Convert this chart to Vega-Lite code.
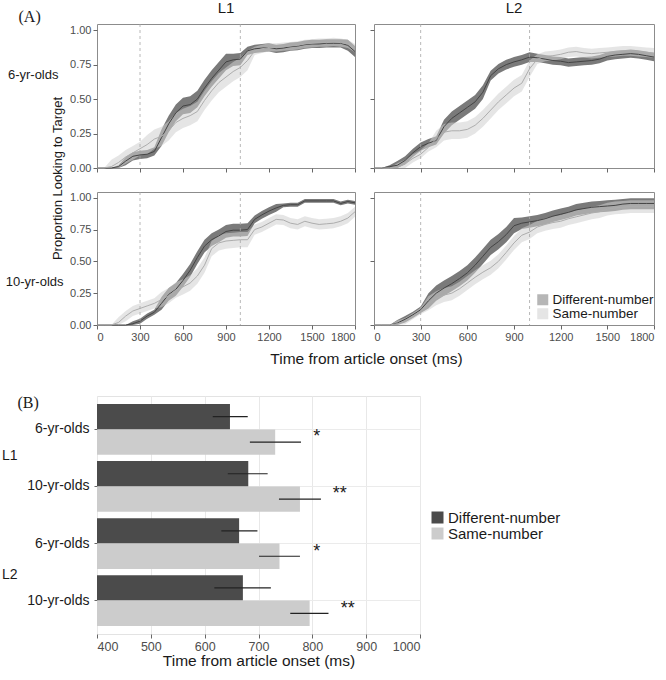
{
"$schema": "https://vega.github.io/schema/vega-lite/v6.json",
"padding": {"left": 0, "top": 0, "right": 2, "bottom": 2},
"background": "white",
"config": {
  "font": "Liberation Sans",
  "view": {"stroke": "#8c8c8c"},
  "axis": {"labelFont": "Liberation Sans", "titleFont": "Liberation Sans", "labelColor": "#4d4d4d", "tickColor": "#666666", "domain": false, "grid": false, "labelFontSize": 11, "tickSize": 4, "labelPadding": 2, "labelOverlap": false, "labelBound": false, "titleFontWeight": "normal", "titleColor": "#1a1a1a"},
  "title": {"font": "Liberation Sans", "fontWeight": "normal", "fontSize": 15, "color": "#1a1a1a"}
},
"datasets": {
"curves": [
{"lang":"L1","age":"6","c":"D","t":0,"m":0,"lo":0,"hi":0},
{"lang":"L1","age":"6","c":"D","t":50,"m":0,"lo":0,"hi":0},
{"lang":"L1","age":"6","c":"D","t":100,"m":0,"lo":0,"hi":0},
{"lang":"L1","age":"6","c":"D","t":150,"m":0.01,"lo":0,"hi":0.02},
{"lang":"L1","age":"6","c":"D","t":200,"m":0.05,"lo":0.02,"hi":0.08},
{"lang":"L1","age":"6","c":"D","t":250,"m":0.085,"lo":0.055,"hi":0.115},
{"lang":"L1","age":"6","c":"D","t":300,"m":0.095,"lo":0.065,"hi":0.125},
{"lang":"L1","age":"6","c":"D","t":350,"m":0.1,"lo":0.07,"hi":0.13},
{"lang":"L1","age":"6","c":"D","t":400,"m":0.12,"lo":0.09,"hi":0.15},
{"lang":"L1","age":"6","c":"D","t":450,"m":0.22,"lo":0.16,"hi":0.28},
{"lang":"L1","age":"6","c":"D","t":500,"m":0.32,"lo":0.26,"hi":0.38},
{"lang":"L1","age":"6","c":"D","t":550,"m":0.4,"lo":0.34,"hi":0.46},
{"lang":"L1","age":"6","c":"D","t":600,"m":0.45,"lo":0.39,"hi":0.51},
{"lang":"L1","age":"6","c":"D","t":650,"m":0.46,"lo":0.4,"hi":0.52},
{"lang":"L1","age":"6","c":"D","t":700,"m":0.5,"lo":0.44,"hi":0.56},
{"lang":"L1","age":"6","c":"D","t":750,"m":0.58,"lo":0.52,"hi":0.64},
{"lang":"L1","age":"6","c":"D","t":800,"m":0.65,"lo":0.59,"hi":0.71},
{"lang":"L1","age":"6","c":"D","t":850,"m":0.71,"lo":0.65,"hi":0.77},
{"lang":"L1","age":"6","c":"D","t":900,"m":0.77,"lo":0.71,"hi":0.83},
{"lang":"L1","age":"6","c":"D","t":950,"m":0.785,"lo":0.74,"hi":0.83},
{"lang":"L1","age":"6","c":"D","t":1000,"m":0.79,"lo":0.745,"hi":0.835},
{"lang":"L1","age":"6","c":"D","t":1050,"m":0.85,"lo":0.82,"hi":0.88},
{"lang":"L1","age":"6","c":"D","t":1100,"m":0.865,"lo":0.835,"hi":0.895},
{"lang":"L1","age":"6","c":"D","t":1150,"m":0.87,"lo":0.84,"hi":0.9},
{"lang":"L1","age":"6","c":"D","t":1200,"m":0.875,"lo":0.845,"hi":0.905},
{"lang":"L1","age":"6","c":"D","t":1250,"m":0.865,"lo":0.835,"hi":0.895},
{"lang":"L1","age":"6","c":"D","t":1300,"m":0.87,"lo":0.84,"hi":0.9},
{"lang":"L1","age":"6","c":"D","t":1350,"m":0.88,"lo":0.85,"hi":0.91},
{"lang":"L1","age":"6","c":"D","t":1400,"m":0.885,"lo":0.855,"hi":0.915},
{"lang":"L1","age":"6","c":"D","t":1450,"m":0.895,"lo":0.865,"hi":0.925},
{"lang":"L1","age":"6","c":"D","t":1500,"m":0.9,"lo":0.87,"hi":0.93},
{"lang":"L1","age":"6","c":"D","t":1550,"m":0.9,"lo":0.87,"hi":0.93},
{"lang":"L1","age":"6","c":"D","t":1600,"m":0.905,"lo":0.875,"hi":0.935},
{"lang":"L1","age":"6","c":"D","t":1650,"m":0.905,"lo":0.875,"hi":0.935},
{"lang":"L1","age":"6","c":"D","t":1700,"m":0.905,"lo":0.875,"hi":0.935},
{"lang":"L1","age":"6","c":"D","t":1750,"m":0.89,"lo":0.85,"hi":0.93},
{"lang":"L1","age":"6","c":"D","t":1800,"m":0.845,"lo":0.805,"hi":0.885},
{"lang":"L1","age":"6","c":"S","t":0,"m":0,"lo":0,"hi":0},
{"lang":"L1","age":"6","c":"S","t":50,"m":0,"lo":0,"hi":0},
{"lang":"L1","age":"6","c":"S","t":100,"m":0.01,"lo":0,"hi":0.06},
{"lang":"L1","age":"6","c":"S","t":150,"m":0.04,"lo":0,"hi":0.09},
{"lang":"L1","age":"6","c":"S","t":200,"m":0.08,"lo":0.03,"hi":0.13},
{"lang":"L1","age":"6","c":"S","t":250,"m":0.11,"lo":0.06,"hi":0.16},
{"lang":"L1","age":"6","c":"S","t":300,"m":0.14,"lo":0.09,"hi":0.19},
{"lang":"L1","age":"6","c":"S","t":350,"m":0.17,"lo":0.1,"hi":0.24},
{"lang":"L1","age":"6","c":"S","t":400,"m":0.21,"lo":0.14,"hi":0.28},
{"lang":"L1","age":"6","c":"S","t":450,"m":0.23,"lo":0.16,"hi":0.3},
{"lang":"L1","age":"6","c":"S","t":500,"m":0.27,"lo":0.2,"hi":0.34},
{"lang":"L1","age":"6","c":"S","t":550,"m":0.33,"lo":0.26,"hi":0.4},
{"lang":"L1","age":"6","c":"S","t":600,"m":0.36,"lo":0.29,"hi":0.43},
{"lang":"L1","age":"6","c":"S","t":650,"m":0.38,"lo":0.31,"hi":0.45},
{"lang":"L1","age":"6","c":"S","t":700,"m":0.41,"lo":0.34,"hi":0.48},
{"lang":"L1","age":"6","c":"S","t":750,"m":0.49,"lo":0.42,"hi":0.56},
{"lang":"L1","age":"6","c":"S","t":800,"m":0.56,"lo":0.49,"hi":0.63},
{"lang":"L1","age":"6","c":"S","t":850,"m":0.62,"lo":0.55,"hi":0.69},
{"lang":"L1","age":"6","c":"S","t":900,"m":0.66,"lo":0.59,"hi":0.73},
{"lang":"L1","age":"6","c":"S","t":950,"m":0.7,"lo":0.63,"hi":0.77},
{"lang":"L1","age":"6","c":"S","t":1000,"m":0.73,"lo":0.66,"hi":0.8},
{"lang":"L1","age":"6","c":"S","t":1050,"m":0.78,"lo":0.71,"hi":0.85},
{"lang":"L1","age":"6","c":"S","t":1100,"m":0.85,"lo":0.82,"hi":0.88},
{"lang":"L1","age":"6","c":"S","t":1150,"m":0.865,"lo":0.835,"hi":0.895},
{"lang":"L1","age":"6","c":"S","t":1200,"m":0.875,"lo":0.845,"hi":0.905},
{"lang":"L1","age":"6","c":"S","t":1250,"m":0.875,"lo":0.845,"hi":0.905},
{"lang":"L1","age":"6","c":"S","t":1300,"m":0.88,"lo":0.85,"hi":0.91},
{"lang":"L1","age":"6","c":"S","t":1350,"m":0.885,"lo":0.855,"hi":0.915},
{"lang":"L1","age":"6","c":"S","t":1400,"m":0.89,"lo":0.86,"hi":0.92},
{"lang":"L1","age":"6","c":"S","t":1450,"m":0.9,"lo":0.87,"hi":0.93},
{"lang":"L1","age":"6","c":"S","t":1500,"m":0.905,"lo":0.875,"hi":0.935},
{"lang":"L1","age":"6","c":"S","t":1550,"m":0.91,"lo":0.88,"hi":0.94},
{"lang":"L1","age":"6","c":"S","t":1600,"m":0.91,"lo":0.88,"hi":0.94},
{"lang":"L1","age":"6","c":"S","t":1650,"m":0.915,"lo":0.885,"hi":0.945},
{"lang":"L1","age":"6","c":"S","t":1700,"m":0.91,"lo":0.88,"hi":0.94},
{"lang":"L1","age":"6","c":"S","t":1750,"m":0.9,"lo":0.87,"hi":0.93},
{"lang":"L1","age":"6","c":"S","t":1800,"m":0.87,"lo":0.84,"hi":0.9},
{"lang":"L2","age":"6","c":"D","t":0,"m":0,"lo":0,"hi":0},
{"lang":"L2","age":"6","c":"D","t":50,"m":0,"lo":0,"hi":0},
{"lang":"L2","age":"6","c":"D","t":100,"m":0.01,"lo":0,"hi":0.02},
{"lang":"L2","age":"6","c":"D","t":150,"m":0.02,"lo":0,"hi":0.05},
{"lang":"L2","age":"6","c":"D","t":200,"m":0.055,"lo":0.025,"hi":0.085},
{"lang":"L2","age":"6","c":"D","t":250,"m":0.11,"lo":0.08,"hi":0.14},
{"lang":"L2","age":"6","c":"D","t":300,"m":0.155,"lo":0.125,"hi":0.185},
{"lang":"L2","age":"6","c":"D","t":350,"m":0.18,"lo":0.15,"hi":0.21},
{"lang":"L2","age":"6","c":"D","t":400,"m":0.2,"lo":0.17,"hi":0.23},
{"lang":"L2","age":"6","c":"D","t":450,"m":0.3,"lo":0.25,"hi":0.35},
{"lang":"L2","age":"6","c":"D","t":500,"m":0.36,"lo":0.31,"hi":0.41},
{"lang":"L2","age":"6","c":"D","t":550,"m":0.4,"lo":0.35,"hi":0.45},
{"lang":"L2","age":"6","c":"D","t":600,"m":0.44,"lo":0.39,"hi":0.49},
{"lang":"L2","age":"6","c":"D","t":650,"m":0.48,"lo":0.43,"hi":0.53},
{"lang":"L2","age":"6","c":"D","t":700,"m":0.55,"lo":0.5,"hi":0.6},
{"lang":"L2","age":"6","c":"D","t":750,"m":0.67,"lo":0.635,"hi":0.705},
{"lang":"L2","age":"6","c":"D","t":800,"m":0.72,"lo":0.685,"hi":0.755},
{"lang":"L2","age":"6","c":"D","t":850,"m":0.75,"lo":0.715,"hi":0.785},
{"lang":"L2","age":"6","c":"D","t":900,"m":0.77,"lo":0.735,"hi":0.805},
{"lang":"L2","age":"6","c":"D","t":950,"m":0.785,"lo":0.75,"hi":0.82},
{"lang":"L2","age":"6","c":"D","t":1000,"m":0.805,"lo":0.77,"hi":0.84},
{"lang":"L2","age":"6","c":"D","t":1050,"m":0.8,"lo":0.77,"hi":0.83},
{"lang":"L2","age":"6","c":"D","t":1100,"m":0.79,"lo":0.76,"hi":0.82},
{"lang":"L2","age":"6","c":"D","t":1150,"m":0.78,"lo":0.75,"hi":0.81},
{"lang":"L2","age":"6","c":"D","t":1200,"m":0.775,"lo":0.745,"hi":0.805},
{"lang":"L2","age":"6","c":"D","t":1250,"m":0.765,"lo":0.735,"hi":0.795},
{"lang":"L2","age":"6","c":"D","t":1300,"m":0.77,"lo":0.74,"hi":0.8},
{"lang":"L2","age":"6","c":"D","t":1350,"m":0.775,"lo":0.745,"hi":0.805},
{"lang":"L2","age":"6","c":"D","t":1400,"m":0.78,"lo":0.75,"hi":0.81},
{"lang":"L2","age":"6","c":"D","t":1450,"m":0.79,"lo":0.76,"hi":0.82},
{"lang":"L2","age":"6","c":"D","t":1500,"m":0.81,"lo":0.78,"hi":0.84},
{"lang":"L2","age":"6","c":"D","t":1550,"m":0.82,"lo":0.79,"hi":0.85},
{"lang":"L2","age":"6","c":"D","t":1600,"m":0.825,"lo":0.795,"hi":0.855},
{"lang":"L2","age":"6","c":"D","t":1650,"m":0.83,"lo":0.8,"hi":0.86},
{"lang":"L2","age":"6","c":"D","t":1700,"m":0.825,"lo":0.795,"hi":0.855},
{"lang":"L2","age":"6","c":"D","t":1750,"m":0.815,"lo":0.785,"hi":0.845},
{"lang":"L2","age":"6","c":"D","t":1800,"m":0.805,"lo":0.775,"hi":0.835},
{"lang":"L2","age":"6","c":"S","t":0,"m":0,"lo":0,"hi":0},
{"lang":"L2","age":"6","c":"S","t":50,"m":0,"lo":0,"hi":0},
{"lang":"L2","age":"6","c":"S","t":100,"m":0,"lo":0,"hi":0},
{"lang":"L2","age":"6","c":"S","t":150,"m":0.005,"lo":0,"hi":0.035},
{"lang":"L2","age":"6","c":"S","t":200,"m":0.03,"lo":0,"hi":0.06},
{"lang":"L2","age":"6","c":"S","t":250,"m":0.07,"lo":0.04,"hi":0.1},
{"lang":"L2","age":"6","c":"S","t":300,"m":0.1,"lo":0.07,"hi":0.13},
{"lang":"L2","age":"6","c":"S","t":350,"m":0.15,"lo":0.12,"hi":0.18},
{"lang":"L2","age":"6","c":"S","t":400,"m":0.21,"lo":0.15,"hi":0.27},
{"lang":"L2","age":"6","c":"S","t":450,"m":0.26,"lo":0.2,"hi":0.32},
{"lang":"L2","age":"6","c":"S","t":500,"m":0.27,"lo":0.21,"hi":0.33},
{"lang":"L2","age":"6","c":"S","t":550,"m":0.27,"lo":0.21,"hi":0.33},
{"lang":"L2","age":"6","c":"S","t":600,"m":0.28,"lo":0.22,"hi":0.34},
{"lang":"L2","age":"6","c":"S","t":650,"m":0.31,"lo":0.25,"hi":0.37},
{"lang":"L2","age":"6","c":"S","t":700,"m":0.36,"lo":0.3,"hi":0.42},
{"lang":"L2","age":"6","c":"S","t":750,"m":0.42,"lo":0.36,"hi":0.48},
{"lang":"L2","age":"6","c":"S","t":800,"m":0.48,"lo":0.42,"hi":0.54},
{"lang":"L2","age":"6","c":"S","t":850,"m":0.53,"lo":0.47,"hi":0.59},
{"lang":"L2","age":"6","c":"S","t":900,"m":0.58,"lo":0.52,"hi":0.64},
{"lang":"L2","age":"6","c":"S","t":950,"m":0.615,"lo":0.555,"hi":0.675},
{"lang":"L2","age":"6","c":"S","t":1000,"m":0.72,"lo":0.66,"hi":0.78},
{"lang":"L2","age":"6","c":"S","t":1050,"m":0.79,"lo":0.755,"hi":0.825},
{"lang":"L2","age":"6","c":"S","t":1100,"m":0.81,"lo":0.775,"hi":0.845},
{"lang":"L2","age":"6","c":"S","t":1150,"m":0.815,"lo":0.78,"hi":0.85},
{"lang":"L2","age":"6","c":"S","t":1200,"m":0.825,"lo":0.79,"hi":0.86},
{"lang":"L2","age":"6","c":"S","t":1250,"m":0.84,"lo":0.805,"hi":0.875},
{"lang":"L2","age":"6","c":"S","t":1300,"m":0.845,"lo":0.81,"hi":0.88},
{"lang":"L2","age":"6","c":"S","t":1350,"m":0.835,"lo":0.8,"hi":0.87},
{"lang":"L2","age":"6","c":"S","t":1400,"m":0.83,"lo":0.795,"hi":0.865},
{"lang":"L2","age":"6","c":"S","t":1450,"m":0.835,"lo":0.8,"hi":0.87},
{"lang":"L2","age":"6","c":"S","t":1500,"m":0.84,"lo":0.805,"hi":0.875},
{"lang":"L2","age":"6","c":"S","t":1550,"m":0.845,"lo":0.81,"hi":0.88},
{"lang":"L2","age":"6","c":"S","t":1600,"m":0.85,"lo":0.815,"hi":0.885},
{"lang":"L2","age":"6","c":"S","t":1650,"m":0.85,"lo":0.815,"hi":0.885},
{"lang":"L2","age":"6","c":"S","t":1700,"m":0.845,"lo":0.81,"hi":0.88},
{"lang":"L2","age":"6","c":"S","t":1750,"m":0.84,"lo":0.805,"hi":0.875},
{"lang":"L2","age":"6","c":"S","t":1800,"m":0.835,"lo":0.8,"hi":0.87},
{"lang":"L1","age":"10","c":"D","t":0,"m":0,"lo":0,"hi":0},
{"lang":"L1","age":"10","c":"D","t":50,"m":0,"lo":0,"hi":0},
{"lang":"L1","age":"10","c":"D","t":100,"m":0,"lo":0,"hi":0},
{"lang":"L1","age":"10","c":"D","t":150,"m":0,"lo":0,"hi":0},
{"lang":"L1","age":"10","c":"D","t":200,"m":0,"lo":0,"hi":0},
{"lang":"L1","age":"10","c":"D","t":250,"m":0.01,"lo":0,"hi":0.03},
{"lang":"L1","age":"10","c":"D","t":300,"m":0.03,"lo":0.01,"hi":0.05},
{"lang":"L1","age":"10","c":"D","t":350,"m":0.07,"lo":0.05,"hi":0.09},
{"lang":"L1","age":"10","c":"D","t":400,"m":0.1,"lo":0.08,"hi":0.12},
{"lang":"L1","age":"10","c":"D","t":450,"m":0.17,"lo":0.12,"hi":0.22},
{"lang":"L1","age":"10","c":"D","t":500,"m":0.24,"lo":0.19,"hi":0.29},
{"lang":"L1","age":"10","c":"D","t":550,"m":0.28,"lo":0.23,"hi":0.33},
{"lang":"L1","age":"10","c":"D","t":600,"m":0.35,"lo":0.3,"hi":0.4},
{"lang":"L1","age":"10","c":"D","t":650,"m":0.43,"lo":0.38,"hi":0.48},
{"lang":"L1","age":"10","c":"D","t":700,"m":0.53,"lo":0.48,"hi":0.58},
{"lang":"L1","age":"10","c":"D","t":750,"m":0.62,"lo":0.57,"hi":0.67},
{"lang":"L1","age":"10","c":"D","t":800,"m":0.67,"lo":0.62,"hi":0.72},
{"lang":"L1","age":"10","c":"D","t":850,"m":0.7,"lo":0.65,"hi":0.75},
{"lang":"L1","age":"10","c":"D","t":900,"m":0.735,"lo":0.685,"hi":0.785},
{"lang":"L1","age":"10","c":"D","t":950,"m":0.745,"lo":0.695,"hi":0.795},
{"lang":"L1","age":"10","c":"D","t":1000,"m":0.745,"lo":0.695,"hi":0.795},
{"lang":"L1","age":"10","c":"D","t":1050,"m":0.75,"lo":0.7,"hi":0.8},
{"lang":"L1","age":"10","c":"D","t":1100,"m":0.83,"lo":0.8,"hi":0.86},
{"lang":"L1","age":"10","c":"D","t":1150,"m":0.865,"lo":0.835,"hi":0.895},
{"lang":"L1","age":"10","c":"D","t":1200,"m":0.895,"lo":0.865,"hi":0.925},
{"lang":"L1","age":"10","c":"D","t":1250,"m":0.92,"lo":0.89,"hi":0.95},
{"lang":"L1","age":"10","c":"D","t":1300,"m":0.94,"lo":0.925,"hi":0.955},
{"lang":"L1","age":"10","c":"D","t":1350,"m":0.945,"lo":0.93,"hi":0.96},
{"lang":"L1","age":"10","c":"D","t":1400,"m":0.945,"lo":0.93,"hi":0.96},
{"lang":"L1","age":"10","c":"D","t":1450,"m":0.975,"lo":0.96,"hi":0.99},
{"lang":"L1","age":"10","c":"D","t":1500,"m":0.975,"lo":0.96,"hi":0.99},
{"lang":"L1","age":"10","c":"D","t":1550,"m":0.975,"lo":0.96,"hi":0.99},
{"lang":"L1","age":"10","c":"D","t":1600,"m":0.975,"lo":0.96,"hi":0.99},
{"lang":"L1","age":"10","c":"D","t":1650,"m":0.975,"lo":0.96,"hi":0.99},
{"lang":"L1","age":"10","c":"D","t":1700,"m":0.955,"lo":0.94,"hi":0.97},
{"lang":"L1","age":"10","c":"D","t":1750,"m":0.97,"lo":0.955,"hi":0.985},
{"lang":"L1","age":"10","c":"D","t":1800,"m":0.96,"lo":0.945,"hi":0.975},
{"lang":"L1","age":"10","c":"S","t":0,"m":0,"lo":0,"hi":0},
{"lang":"L1","age":"10","c":"S","t":50,"m":0,"lo":0,"hi":0},
{"lang":"L1","age":"10","c":"S","t":100,"m":0,"lo":0,"hi":0},
{"lang":"L1","age":"10","c":"S","t":150,"m":0.02,"lo":0,"hi":0.06},
{"lang":"L1","age":"10","c":"S","t":200,"m":0.07,"lo":0.03,"hi":0.11},
{"lang":"L1","age":"10","c":"S","t":250,"m":0.11,"lo":0.07,"hi":0.15},
{"lang":"L1","age":"10","c":"S","t":300,"m":0.13,"lo":0.09,"hi":0.17},
{"lang":"L1","age":"10","c":"S","t":350,"m":0.15,"lo":0.11,"hi":0.19},
{"lang":"L1","age":"10","c":"S","t":400,"m":0.17,"lo":0.13,"hi":0.21},
{"lang":"L1","age":"10","c":"S","t":450,"m":0.2,"lo":0.14,"hi":0.26},
{"lang":"L1","age":"10","c":"S","t":500,"m":0.23,"lo":0.17,"hi":0.29},
{"lang":"L1","age":"10","c":"S","t":550,"m":0.275,"lo":0.215,"hi":0.335},
{"lang":"L1","age":"10","c":"S","t":600,"m":0.3,"lo":0.24,"hi":0.36},
{"lang":"L1","age":"10","c":"S","t":650,"m":0.33,"lo":0.27,"hi":0.39},
{"lang":"L1","age":"10","c":"S","t":700,"m":0.385,"lo":0.325,"hi":0.445},
{"lang":"L1","age":"10","c":"S","t":750,"m":0.47,"lo":0.41,"hi":0.53},
{"lang":"L1","age":"10","c":"S","t":800,"m":0.6,"lo":0.54,"hi":0.66},
{"lang":"L1","age":"10","c":"S","t":850,"m":0.645,"lo":0.585,"hi":0.705},
{"lang":"L1","age":"10","c":"S","t":900,"m":0.66,"lo":0.6,"hi":0.72},
{"lang":"L1","age":"10","c":"S","t":950,"m":0.665,"lo":0.605,"hi":0.725},
{"lang":"L1","age":"10","c":"S","t":1000,"m":0.67,"lo":0.61,"hi":0.73},
{"lang":"L1","age":"10","c":"S","t":1050,"m":0.67,"lo":0.61,"hi":0.73},
{"lang":"L1","age":"10","c":"S","t":1100,"m":0.75,"lo":0.71,"hi":0.79},
{"lang":"L1","age":"10","c":"S","t":1150,"m":0.77,"lo":0.73,"hi":0.81},
{"lang":"L1","age":"10","c":"S","t":1200,"m":0.8,"lo":0.76,"hi":0.84},
{"lang":"L1","age":"10","c":"S","t":1250,"m":0.83,"lo":0.79,"hi":0.87},
{"lang":"L1","age":"10","c":"S","t":1300,"m":0.825,"lo":0.785,"hi":0.865},
{"lang":"L1","age":"10","c":"S","t":1350,"m":0.8,"lo":0.76,"hi":0.84},
{"lang":"L1","age":"10","c":"S","t":1400,"m":0.79,"lo":0.75,"hi":0.83},
{"lang":"L1","age":"10","c":"S","t":1450,"m":0.815,"lo":0.775,"hi":0.855},
{"lang":"L1","age":"10","c":"S","t":1500,"m":0.8,"lo":0.76,"hi":0.84},
{"lang":"L1","age":"10","c":"S","t":1550,"m":0.79,"lo":0.75,"hi":0.83},
{"lang":"L1","age":"10","c":"S","t":1600,"m":0.795,"lo":0.755,"hi":0.835},
{"lang":"L1","age":"10","c":"S","t":1650,"m":0.8,"lo":0.76,"hi":0.84},
{"lang":"L1","age":"10","c":"S","t":1700,"m":0.815,"lo":0.775,"hi":0.855},
{"lang":"L1","age":"10","c":"S","t":1750,"m":0.84,"lo":0.8,"hi":0.88},
{"lang":"L1","age":"10","c":"S","t":1800,"m":0.89,"lo":0.85,"hi":0.93},
{"lang":"L2","age":"10","c":"D","t":0,"m":0,"lo":0,"hi":0},
{"lang":"L2","age":"10","c":"D","t":50,"m":0,"lo":0,"hi":0},
{"lang":"L2","age":"10","c":"D","t":100,"m":0,"lo":0,"hi":0},
{"lang":"L2","age":"10","c":"D","t":150,"m":0.015,"lo":0,"hi":0.04},
{"lang":"L2","age":"10","c":"D","t":200,"m":0.045,"lo":0.02,"hi":0.07},
{"lang":"L2","age":"10","c":"D","t":250,"m":0.08,"lo":0.055,"hi":0.105},
{"lang":"L2","age":"10","c":"D","t":300,"m":0.12,"lo":0.095,"hi":0.145},
{"lang":"L2","age":"10","c":"D","t":350,"m":0.19,"lo":0.13,"hi":0.25},
{"lang":"L2","age":"10","c":"D","t":400,"m":0.25,"lo":0.19,"hi":0.31},
{"lang":"L2","age":"10","c":"D","t":450,"m":0.29,"lo":0.23,"hi":0.35},
{"lang":"L2","age":"10","c":"D","t":500,"m":0.325,"lo":0.265,"hi":0.385},
{"lang":"L2","age":"10","c":"D","t":550,"m":0.365,"lo":0.305,"hi":0.425},
{"lang":"L2","age":"10","c":"D","t":600,"m":0.41,"lo":0.35,"hi":0.47},
{"lang":"L2","age":"10","c":"D","t":650,"m":0.47,"lo":0.41,"hi":0.53},
{"lang":"L2","age":"10","c":"D","t":700,"m":0.54,"lo":0.48,"hi":0.6},
{"lang":"L2","age":"10","c":"D","t":750,"m":0.61,"lo":0.55,"hi":0.67},
{"lang":"L2","age":"10","c":"D","t":800,"m":0.655,"lo":0.595,"hi":0.715},
{"lang":"L2","age":"10","c":"D","t":850,"m":0.71,"lo":0.65,"hi":0.77},
{"lang":"L2","age":"10","c":"D","t":900,"m":0.78,"lo":0.72,"hi":0.84},
{"lang":"L2","age":"10","c":"D","t":950,"m":0.8,"lo":0.755,"hi":0.845},
{"lang":"L2","age":"10","c":"D","t":1000,"m":0.81,"lo":0.765,"hi":0.855},
{"lang":"L2","age":"10","c":"D","t":1050,"m":0.82,"lo":0.775,"hi":0.865},
{"lang":"L2","age":"10","c":"D","t":1100,"m":0.835,"lo":0.79,"hi":0.88},
{"lang":"L2","age":"10","c":"D","t":1150,"m":0.855,"lo":0.81,"hi":0.9},
{"lang":"L2","age":"10","c":"D","t":1200,"m":0.87,"lo":0.825,"hi":0.915},
{"lang":"L2","age":"10","c":"D","t":1250,"m":0.885,"lo":0.84,"hi":0.93},
{"lang":"L2","age":"10","c":"D","t":1300,"m":0.905,"lo":0.86,"hi":0.95},
{"lang":"L2","age":"10","c":"D","t":1350,"m":0.915,"lo":0.87,"hi":0.96},
{"lang":"L2","age":"10","c":"D","t":1400,"m":0.925,"lo":0.88,"hi":0.97},
{"lang":"L2","age":"10","c":"D","t":1450,"m":0.93,"lo":0.885,"hi":0.975},
{"lang":"L2","age":"10","c":"D","t":1500,"m":0.935,"lo":0.89,"hi":0.98},
{"lang":"L2","age":"10","c":"D","t":1550,"m":0.94,"lo":0.895,"hi":0.985},
{"lang":"L2","age":"10","c":"D","t":1600,"m":0.95,"lo":0.905,"hi":0.99},
{"lang":"L2","age":"10","c":"D","t":1650,"m":0.955,"lo":0.91,"hi":0.995},
{"lang":"L2","age":"10","c":"D","t":1700,"m":0.955,"lo":0.91,"hi":0.995},
{"lang":"L2","age":"10","c":"D","t":1750,"m":0.955,"lo":0.91,"hi":0.995},
{"lang":"L2","age":"10","c":"D","t":1800,"m":0.955,"lo":0.91,"hi":0.995},
{"lang":"L2","age":"10","c":"S","t":0,"m":0,"lo":0,"hi":0},
{"lang":"L2","age":"10","c":"S","t":50,"m":0,"lo":0,"hi":0},
{"lang":"L2","age":"10","c":"S","t":100,"m":0,"lo":0,"hi":0},
{"lang":"L2","age":"10","c":"S","t":150,"m":0.01,"lo":0,"hi":0.035},
{"lang":"L2","age":"10","c":"S","t":200,"m":0.03,"lo":0.005,"hi":0.055},
{"lang":"L2","age":"10","c":"S","t":250,"m":0.07,"lo":0.045,"hi":0.095},
{"lang":"L2","age":"10","c":"S","t":300,"m":0.11,"lo":0.085,"hi":0.135},
{"lang":"L2","age":"10","c":"S","t":350,"m":0.17,"lo":0.115,"hi":0.225},
{"lang":"L2","age":"10","c":"S","t":400,"m":0.21,"lo":0.155,"hi":0.265},
{"lang":"L2","age":"10","c":"S","t":450,"m":0.235,"lo":0.18,"hi":0.29},
{"lang":"L2","age":"10","c":"S","t":500,"m":0.25,"lo":0.195,"hi":0.305},
{"lang":"L2","age":"10","c":"S","t":550,"m":0.285,"lo":0.23,"hi":0.34},
{"lang":"L2","age":"10","c":"S","t":600,"m":0.33,"lo":0.275,"hi":0.385},
{"lang":"L2","age":"10","c":"S","t":650,"m":0.375,"lo":0.32,"hi":0.43},
{"lang":"L2","age":"10","c":"S","t":700,"m":0.415,"lo":0.36,"hi":0.47},
{"lang":"L2","age":"10","c":"S","t":750,"m":0.45,"lo":0.395,"hi":0.505},
{"lang":"L2","age":"10","c":"S","t":800,"m":0.5,"lo":0.445,"hi":0.555},
{"lang":"L2","age":"10","c":"S","t":850,"m":0.57,"lo":0.515,"hi":0.625},
{"lang":"L2","age":"10","c":"S","t":900,"m":0.645,"lo":0.59,"hi":0.7},
{"lang":"L2","age":"10","c":"S","t":950,"m":0.705,"lo":0.65,"hi":0.76},
{"lang":"L2","age":"10","c":"S","t":1000,"m":0.73,"lo":0.675,"hi":0.785},
{"lang":"L2","age":"10","c":"S","t":1050,"m":0.77,"lo":0.72,"hi":0.82},
{"lang":"L2","age":"10","c":"S","t":1100,"m":0.79,"lo":0.74,"hi":0.84},
{"lang":"L2","age":"10","c":"S","t":1150,"m":0.805,"lo":0.755,"hi":0.855},
{"lang":"L2","age":"10","c":"S","t":1200,"m":0.815,"lo":0.765,"hi":0.865},
{"lang":"L2","age":"10","c":"S","t":1250,"m":0.835,"lo":0.785,"hi":0.885},
{"lang":"L2","age":"10","c":"S","t":1300,"m":0.85,"lo":0.8,"hi":0.9},
{"lang":"L2","age":"10","c":"S","t":1350,"m":0.865,"lo":0.815,"hi":0.915},
{"lang":"L2","age":"10","c":"S","t":1400,"m":0.88,"lo":0.83,"hi":0.93},
{"lang":"L2","age":"10","c":"S","t":1450,"m":0.89,"lo":0.84,"hi":0.94},
{"lang":"L2","age":"10","c":"S","t":1500,"m":0.91,"lo":0.86,"hi":0.96},
{"lang":"L2","age":"10","c":"S","t":1550,"m":0.92,"lo":0.87,"hi":0.97},
{"lang":"L2","age":"10","c":"S","t":1600,"m":0.925,"lo":0.875,"hi":0.975},
{"lang":"L2","age":"10","c":"S","t":1650,"m":0.93,"lo":0.88,"hi":0.98},
{"lang":"L2","age":"10","c":"S","t":1700,"m":0.93,"lo":0.88,"hi":0.98},
{"lang":"L2","age":"10","c":"S","t":1750,"m":0.93,"lo":0.88,"hi":0.98},
{"lang":"L2","age":"10","c":"S","t":1800,"m":0.93,"lo":0.88,"hi":0.98}
],
"bars": [
{"grp":"L1 6-yr-olds","cond":"Different-number","ms":647,"lo":615,"hi":680},
{"grp":"L1 6-yr-olds","cond":"Same-number","ms":731,"lo":684,"hi":779},
{"grp":"L1 10-yr-olds","cond":"Different-number","ms":681,"lo":643,"hi":717},
{"grp":"L1 10-yr-olds","cond":"Same-number","ms":777,"lo":738,"hi":816},
{"grp":"L2 6-yr-olds","cond":"Different-number","ms":664,"lo":631,"hi":698},
{"grp":"L2 6-yr-olds","cond":"Same-number","ms":739,"lo":701,"hi":777},
{"grp":"L2 10-yr-olds","cond":"Different-number","ms":671,"lo":618,"hi":723},
{"grp":"L2 10-yr-olds","cond":"Same-number","ms":795,"lo":759,"hi":830}
],
"stars": [
{"grp":"L1 6-yr-olds","ms":808,"sig":"*"},
{"grp":"L1 10-yr-olds","ms":851,"sig":"**"},
{"grp":"L2 6-yr-olds","ms":808,"sig":"*"},
{"grp":"L2 10-yr-olds","ms":866,"sig":"**"}
],
"vlines": [{"t":300},{"t":1000}]
},
"resolve": {"scale": {"fill": "independent", "stroke": "independent"}},
"spacing": 26,
"vconcat": [
{
 "concat": [
  {
   "width": 258, "height": 144,
   "title": {"text": "L1", "frame": "group", "offset": 8, "fontSize": 15},
   "layer": [
    {"data": {"name": "curves"}, "transform": [{"filter": "datum.lang == 'L1' && datum.age == '6' && datum.c == 'D'"}],
     "mark": {"type": "area", "opacity": 1},
     "encoding": {
      "x": {"field": "t", "type": "quantitative", "scale": {"domain": [0, 1800], "nice": false, "zero": false}, "axis": {"values": [0,300,600,900,1200,1500,1800], "labels": false, "title": null}},
      "y": {"field": "lo", "type": "quantitative", "scale": {"domain": [0, 1.045], "nice": false}, "axis": {"values": [0,0.25,0.5,0.75,1], "tickCount": 5, "format": ".2f", "labelOverlap": false, "title": "Proportion Looking to Target", "titleFontSize": 13, "titleX": -33, "titleY": 154, "titleAngle": 270, "titleAlign": "center", "titleBaseline": "bottom"}},
      "y2": {"field": "hi"},
      "fill": {"field": "c", "type": "nominal", "scale": {"domain": ["D","S"], "range": ["#7a7a7a","#cfcfcf"]}, "legend": null}}},
    {"data": {"name": "curves"}, "transform": [{"filter": "datum.lang == 'L1' && datum.age == '6' && datum.c == 'S'"}],
     "mark": {"type": "area", "opacity": 0.55},
     "encoding": {"x": {"field": "t", "type": "quantitative", "axis": {"values": [0,300,600,900,1200,1500,1800], "labels": false, "title": null}},
      "y": {"field": "lo", "type": "quantitative", "axis": {"values": [0,0.25,0.5,0.75,1], "tickCount": 5, "format": ".2f", "labelOverlap": false, "title": "Proportion Looking to Target", "titleFontSize": 13, "titleX": -33, "titleY": 154, "titleAngle": 270, "titleAlign": "center", "titleBaseline": "bottom"}}, "y2": {"field": "hi"},
      "fill": {"field": "c", "type": "nominal", "legend": null}}},
    {"data": {"name": "curves"}, "transform": [{"filter": "datum.lang == 'L1' && datum.age == '6'"}],
     "mark": {"type": "line", "strokeWidth": 1},
     "encoding": {"x": {"field": "t", "type": "quantitative", "axis": {"values": [0,300,600,900,1200,1500,1800], "labels": false, "title": null}},
      "y": {"field": "m", "type": "quantitative", "axis": {"values": [0,0.25,0.5,0.75,1], "tickCount": 5, "format": ".2f", "labelOverlap": false, "title": "Proportion Looking to Target", "titleFontSize": 13, "titleX": -33, "titleY": 154, "titleAngle": 270, "titleAlign": "center", "titleBaseline": "bottom"}},
      "stroke": {"field": "c", "type": "nominal", "scale": {"domain": ["D","S"], "range": ["#444444","#adadad"]}, "legend": null}}},
    {"data": {"name": "vlines"}, "mark": {"type": "rule", "strokeDash": [3,3], "stroke": "#a6a6a6", "strokeWidth": 0.8},
     "encoding": {"x": {"field": "t", "type": "quantitative", "axis": {"values": [0,300,600,900,1200,1500,1800], "labels": false, "title": null}}}}
   ]
  },
  {
   "width": 280, "height": 144,
   "title": {"text": "L2", "frame": "group", "offset": 8, "fontSize": 15},
   "layer": [
    {"data": {"name": "curves"}, "transform": [{"filter": "datum.lang == 'L2' && datum.age == '6' && datum.c == 'D'"}],
     "mark": {"type": "area", "opacity": 1},
     "encoding": {
      "x": {"field": "t", "type": "quantitative", "scale": {"domain": [0, 1800], "nice": false, "zero": false}, "axis": {"values": [0,300,600,900,1200,1500,1800], "labels": false, "title": null}},
      "y": {"field": "lo", "type": "quantitative", "scale": {"domain": [0, 1.045], "nice": false}, "axis": {"values": [0,0.25,0.5,0.75,1], "labels": false, "title": "6-yr-olds", "titleFontSize": 13, "titleAngle": 0, "titleX": -316, "titleY": 50, "titleAlign": "right", "titleBaseline": "middle"}},
      "y2": {"field": "hi"},
      "fill": {"field": "c", "type": "nominal", "scale": {"domain": ["D","S"], "range": ["#7a7a7a","#cfcfcf"]}, "legend": null}}},
    {"data": {"name": "curves"}, "transform": [{"filter": "datum.lang == 'L2' && datum.age == '6' && datum.c == 'S'"}],
     "mark": {"type": "area", "opacity": 0.55},
     "encoding": {"x": {"field": "t", "type": "quantitative"}, "y": {"field": "lo", "type": "quantitative"}, "y2": {"field": "hi"},
      "fill": {"field": "c", "type": "nominal", "legend": null}}},
    {"data": {"name": "curves"}, "transform": [{"filter": "datum.lang == 'L2' && datum.age == '6'"}],
     "mark": {"type": "line", "strokeWidth": 1},
     "encoding": {"x": {"field": "t", "type": "quantitative"}, "y": {"field": "m", "type": "quantitative"},
      "stroke": {"field": "c", "type": "nominal", "scale": {"domain": ["D","S"], "range": ["#444444","#adadad"]}, "legend": null}}},
    {"data": {"name": "vlines"}, "mark": {"type": "rule", "strokeDash": [3,3], "stroke": "#a6a6a6", "strokeWidth": 0.8},
     "encoding": {"x": {"field": "t", "type": "quantitative"}}}
   ]
  },
  {
   "width": 258, "height": 133,
   "layer": [
    {"data": {"name": "curves"}, "transform": [{"filter": "datum.lang == 'L1' && datum.age == '10' && datum.c == 'D'"}],
     "mark": {"type": "area", "opacity": 1},
     "encoding": {
      "x": {"field": "t", "type": "quantitative", "scale": {"domain": [0, 1800], "nice": false, "zero": false}, "axis": {"values": [0,300,600,900,1200,1500,1800], "format": "d", "title": "Time from article onset (ms)", "titleFontSize": 15.5, "titleX": 269, "titleY": 33, "titleAlign": "center", "titleBaseline": "middle"}},
      "y": {"field": "lo", "type": "quantitative", "scale": {"domain": [0, 1.045], "nice": false}, "axis": {"values": [0,0.25,0.5,0.75,1], "tickCount": 5, "format": ".2f", "labelOverlap": false, "title": "10-yr-olds", "titleFontSize": 13, "titleAngle": 0, "titleX": -34, "titleY": 89, "titleAlign": "right", "titleBaseline": "middle"}},
      "y2": {"field": "hi"},
      "fill": {"field": "c", "type": "nominal", "scale": {"domain": ["D","S"], "range": ["#7a7a7a","#cfcfcf"]}, "legend": null}}},
    {"data": {"name": "curves"}, "transform": [{"filter": "datum.lang == 'L1' && datum.age == '10' && datum.c == 'S'"}],
     "mark": {"type": "area", "opacity": 0.55},
     "encoding": {"x": {"field": "t", "type": "quantitative"},
      "y": {"field": "lo", "type": "quantitative", "axis": {"values": [0,0.25,0.5,0.75,1], "tickCount": 5, "format": ".2f", "labelOverlap": false, "title": "10-yr-olds", "titleFontSize": 13, "titleAngle": 0, "titleX": -34, "titleY": 89, "titleAlign": "right", "titleBaseline": "middle"}}, "y2": {"field": "hi"},
      "fill": {"field": "c", "type": "nominal", "legend": null}}},
    {"data": {"name": "curves"}, "transform": [{"filter": "datum.lang == 'L1' && datum.age == '10'"}],
     "mark": {"type": "line", "strokeWidth": 1},
     "encoding": {"x": {"field": "t", "type": "quantitative"},
      "y": {"field": "m", "type": "quantitative", "axis": {"values": [0,0.25,0.5,0.75,1], "tickCount": 5, "format": ".2f", "labelOverlap": false, "title": "10-yr-olds", "titleFontSize": 13, "titleAngle": 0, "titleX": -34, "titleY": 89, "titleAlign": "right", "titleBaseline": "middle"}},
      "stroke": {"field": "c", "type": "nominal", "scale": {"domain": ["D","S"], "range": ["#444444","#adadad"]}, "legend": null}}},
    {"data": {"name": "vlines"}, "mark": {"type": "rule", "strokeDash": [3,3], "stroke": "#a6a6a6", "strokeWidth": 0.8},
     "encoding": {"x": {"field": "t", "type": "quantitative"}}}
   ]
  },
  {
   "width": 280, "height": 133,
   "layer": [
    {"data": {"name": "curves"}, "transform": [{"filter": "datum.lang == 'L2' && datum.age == '10' && datum.c == 'D'"}],
     "mark": {"type": "area", "opacity": 1},
     "encoding": {
      "x": {"field": "t", "type": "quantitative", "scale": {"domain": [0, 1800], "nice": false, "zero": false}, "axis": {"values": [0,300,600,900,1200,1500,1800], "format": "d", "title": null}},
      "y": {"field": "lo", "type": "quantitative", "scale": {"domain": [0, 1.045], "nice": false}, "axis": {"values": [0,0.25,0.5,0.75,1], "labels": false, "title": "(A)", "titleFont": "Liberation Serif", "titleFontSize": 16, "titleAngle": 0, "titleX": -356, "titleY": -171, "titleAlign": "left", "titleBaseline": "alphabetic"}},
      "y2": {"field": "hi"},
      "fill": {"field": "c", "type": "nominal", "scale": {"domain": ["D","S"], "range": ["#7a7a7a","#cfcfcf"]},
       "legend": {"orient": "none", "legendX": 162, "legendY": 101, "title": null, "labelExpr": "datum.value == 'D' ? 'Different-number' : 'Same-number'", "symbolType": "square", "symbolSize": 121, "symbolOpacity": 1, "symbolStrokeWidth": 0, "labelFontSize": 13.5, "labelFont": "Liberation Sans", "labelColor": "#1a1a1a", "rowPadding": -2, "labelOffset": 3, "padding": 0}}}},
    {"data": {"name": "curves"}, "transform": [{"filter": "datum.lang == 'L2' && datum.age == '10' && datum.c == 'S'"}],
     "mark": {"type": "area", "opacity": 0.55},
     "encoding": {"x": {"field": "t", "type": "quantitative"}, "y": {"field": "lo", "type": "quantitative"}, "y2": {"field": "hi"},
      "fill": {"field": "c", "type": "nominal"}}},
    {"data": {"name": "curves"}, "transform": [{"filter": "datum.lang == 'L2' && datum.age == '10'"}],
     "mark": {"type": "line", "strokeWidth": 1},
     "encoding": {"x": {"field": "t", "type": "quantitative"}, "y": {"field": "m", "type": "quantitative"},
      "stroke": {"field": "c", "type": "nominal", "scale": {"domain": ["D","S"], "range": ["#444444","#adadad"]}, "legend": null}}},
    {"data": {"name": "vlines"}, "mark": {"type": "rule", "strokeDash": [3,3], "stroke": "#a6a6a6", "strokeWidth": 0.8},
     "encoding": {"x": {"field": "t", "type": "quantitative"}}}
   ]
  }
 ],
 "columns": 2,
 "bounds": "flush",
 "spacing": {"row": 24, "column": 19},
 "resolve": {"scale": {"fill": "independent", "stroke": "independent"}}
},
{
 "width": 323, "height": 238,
 "view": {"stroke": "#e3e3e3"},
 "layer": [
  {
   "layer": [
    {"data": {"name": "bars"}, "mark": {"type": "bar"},
     "encoding": {
      "y": {"field": "grp", "type": "nominal", "scale": {"domain": ["L1 6-yr-olds","L1 10-yr-olds","L2 6-yr-olds","L2 10-yr-olds"], "paddingInner": 0.11, "paddingOuter": 0.14},
        "axis": {"labelExpr": "slice(datum.label, 3)", "labelFontSize": 14, "labelColor": "#1a1a1a", "tickSize": 3, "labelPadding": 5, "grid": true, "gridColor": "#ebebeb", "title": "(B)", "titleFont": "Liberation Serif", "titleFontSize": 16, "titleAngle": 0, "titleX": -80, "titleY": 6, "titleAlign": "left", "titleBaseline": "middle"}},
      "yOffset": {"field": "cond", "type": "nominal", "scale": {"domain": ["Different-number","Same-number"], "paddingInner": 0, "paddingOuter": 0}},
      "x": {"field": "ms", "type": "quantitative", "scale": {"domain": [400, 1000], "nice": false, "zero": false},
        "axis": {"values": [400,450,500,550,600,650,700,750,800,850,900,950,1000], "format": "d", "labelExpr": "datum.value % 100 == 0 ? datum.label : ''", "labelFontSize": 12.5, "grid": true, "gridColor": {"condition": {"test": "datum.value % 100 == 0", "value": "#e8e8e8"}, "value": "#f4f4f4"}, "tickOpacity": {"condition": {"test": "datum.value % 100 == 0", "value": 1}, "value": 0}, "title": "Time from article onset (ms)", "titleFontSize": 15.5, "titlePadding": 1}},
      "x2": {"datum": 400},
      "fill": {"field": "cond", "type": "nominal", "scale": {"domain": ["Different-number","Same-number"], "range": ["#4b4b4b","#cccccc"]},
        "legend": {"orient": "none", "legendX": 333, "legendY": 114, "title": null, "symbolType": "square", "symbolSize": 144, "symbolOpacity": 1, "symbolStrokeWidth": 0, "labelFontSize": 15, "labelFont": "Liberation Sans", "labelColor": "#1a1a1a", "rowPadding": -3, "labelOffset": 3, "padding": 0}}}},
    {"data": {"name": "bars"}, "mark": {"type": "rule", "stroke": "#222222", "strokeWidth": 1.2},
     "encoding": {
      "y": {"field": "grp", "type": "nominal"},
      "yOffset": {"field": "cond", "type": "nominal"},
      "x": {"field": "lo", "type": "quantitative"},
      "x2": {"field": "hi"}}},
    {"data": {"name": "stars"}, "mark": {"type": "text", "fontSize": 18, "baseline": "alphabetic", "dy": 13, "align": "center", "color": "#1a1a1a"},
     "encoding": {
      "y": {"field": "grp", "type": "nominal"},
      "x": {"field": "ms", "type": "quantitative"},
      "text": {"field": "sig"}}}
   ]
  },
  {
   "data": {"values": [{"lang": "L1"}, {"lang": "L2"}]},
   "mark": {"type": "text", "text": ""},
   "encoding": {
    "y": {"field": "lang", "type": "nominal", "scale": {"domain": ["L1","L2"], "paddingInner": 0, "paddingOuter": 0},
      "axis": {"orient": "left", "ticks": false, "grid": false, "labelPadding": 80, "labelFontSize": 14, "labelColor": "#1a1a1a", "title": null}}
   }
  }
 ],
 "resolve": {"scale": {"y": "independent"}, "axis": {"y": "independent"}}
}
]
}
